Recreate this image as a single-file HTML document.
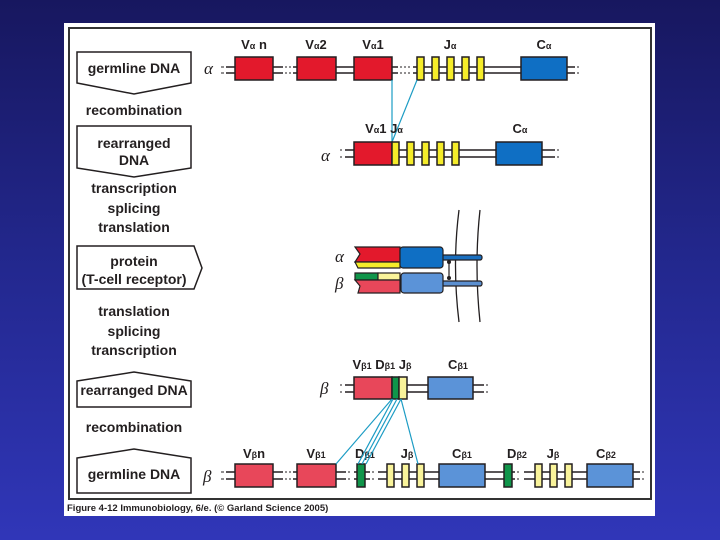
<!DOCTYPE html>
<html><head><meta charset="utf-8"><style>
html,body{margin:0;padding:0;width:720px;height:540px;overflow:hidden}
body{background:linear-gradient(#17175f,#23288f 50%,#3036b8)}
svg{position:absolute;left:0;top:0}
text{font-family:"Liberation Sans",sans-serif;font-weight:bold;fill:#231f20}
.l{font-size:14px;font-weight:normal;text-anchor:middle;font-family:"Liberation Sans Narrow","Liberation Sans",sans-serif}
.g{font-family:"Liberation Serif",serif;font-style:italic;font-weight:normal;font-size:17px}
.h{font-size:13px;text-anchor:middle}
.s{font-size:9px}
</style></head><body>
<svg width="720" height="540" viewBox="0 0 720 540">
<rect x="64" y="23" width="591" height="493" fill="#fff"/>
<rect x="69" y="28" width="582" height="471" fill="none" stroke="#333" stroke-width="2"/>
<text x="67" y="511" style="font-size:9.5px">Figure 4-12  Immunobiology, 6/e. (© Garland Science 2005)</text>

<g fill="#fff" stroke="#231f20" stroke-width="1.5">
<path d="M77,52 H191 V83 L134,94 L77,83 Z"/>
<path d="M77,126 H191 V168 L134,177 L77,168 Z"/>
<path d="M77,246 H194 L202,268 L194,289 H77 Z"/>
<path d="M77,381 L134,372 L191,381 V407 H77 Z"/>
<path d="M77,458 L134,449 L191,458 V493 H77 Z"/>
</g>
<g class="l">
<text x="134" y="73" class="l" style="font-weight:bold;font-size:14px">germline DNA</text>
<text x="134" y="115">recombination</text>
<text x="134" y="148">rearranged</text>
<text x="134" y="165">DNA</text>
<text x="134" y="193">transcription</text>
<text x="134" y="213">splicing</text>
<text x="134" y="232">translation</text>
<text x="134" y="266">protein</text>
<text x="134" y="284">(T-cell receptor)</text>
<text x="134" y="316">translation</text>
<text x="134" y="336">splicing</text>
<text x="134" y="355">transcription</text>
<text x="134" y="395">rearranged DNA</text>
<text x="134" y="432">recombination</text>
<text x="134" y="479" style="font-size:14px">germline DNA</text>
</g>

<!-- alpha germline -->
<g stroke="#231f20" stroke-width="1.5">
<path d="M226,67 H283 M293,67 H398 M413,67 H567 M226,73 H283 M293,73 H398 M413,73 H567 M567,67 H575 M567,73 H575" fill="none"/>
<path d="M221,67h3 M221,73h3 M285,67h2 M285,73h2 M289,67h2 M289,73h2 M400,67h2 M400,73h2 M404,67h2 M404,73h2 M408,67h2 M408,73h2 M577,67h2 M577,73h2" stroke-width="1"/>
<g fill="#e3192c"><rect x="235" y="57" width="38" height="23"/><rect x="297" y="57" width="39" height="23"/><rect x="354" y="57" width="38" height="23"/></g>
<g fill="#f5ec2a"><rect x="417" y="57" width="7" height="23"/><rect x="432" y="57" width="7" height="23"/><rect x="447" y="57" width="7" height="23"/><rect x="462" y="57" width="7" height="23"/><rect x="477" y="57" width="7" height="23"/></g>
<rect x="521" y="57" width="46" height="23" fill="#0f6fc4"/>
</g>
<text x="204" y="74" class="g">α</text>
<g class="h"><text x="254" y="49">V<tspan class="s">α</tspan> n</text><text x="316" y="49">V<tspan class="s">α</tspan>2</text><text x="373" y="49">V<tspan class="s">α</tspan>1</text><text x="450" y="49">J<tspan class="s">α</tspan></text><text x="544" y="49">C<tspan class="s">α</tspan></text></g>
<g stroke="#1c9cc4" stroke-width="1.2"><line x1="392" y1="80" x2="392" y2="142"/><line x1="417" y1="80" x2="392" y2="142"/></g>

<!-- alpha rearranged -->
<g stroke="#231f20" stroke-width="1.5">
<path d="M345,150 H555 M345,157 H555" fill="none"/>
<path d="M340,150h2 M340,157h2 M557,150h2 M557,157h2" stroke-width="1"/>
<rect x="354" y="142" width="38" height="23" fill="#e3192c"/>
<g fill="#f5ec2a"><rect x="392" y="142" width="7" height="23"/><rect x="407" y="142" width="7" height="23"/><rect x="422" y="142" width="7" height="23"/><rect x="437" y="142" width="7" height="23"/><rect x="452" y="142" width="7" height="23"/></g>
<rect x="496" y="142" width="46" height="23" fill="#0f6fc4"/>
</g>
<text x="321" y="161" class="g">α</text>
<g class="h"><text x="384" y="133">V<tspan class="s">α</tspan>1 J<tspan class="s">α</tspan></text><text x="520" y="133">C<tspan class="s">α</tspan></text></g>

<!-- protein -->
<g fill="none" stroke="#231f20" stroke-width="1.3">
<path d="M459,210 Q452,265 459,322"/><path d="M480,210 Q474,265 480,322"/>
</g>
<g stroke="#231f20" stroke-width="1.2">
<rect x="440" y="255" width="42" height="5" rx="2" fill="#1a6fbf"/>
<rect x="440" y="281" width="42" height="5" rx="2" fill="#5b8fd0"/>
<path d="M355,247 H400 V262 H355 L360,254 Z" fill="#e3192c"/>
<path d="M355,262 H400 V268 H358 Z" fill="#f5ec2a"/>
<rect x="400" y="247" width="43" height="21" rx="3" fill="#0f6fc4"/>
<path d="M355,273 H378 V280 H355 Z" fill="#10954a"/>
<rect x="378" y="273" width="22" height="7" fill="#f9f39a"/>
<path d="M355,280 H400 V293 H358 L360,286 Z" fill="#e8475a"/>
<rect x="401" y="273" width="42" height="20" rx="3" fill="#5b93d8"/>
<line x1="449" y1="262" x2="449" y2="278"/>
</g>
<circle cx="449" cy="262" r="2" fill="#231f20"/><circle cx="449" cy="278" r="2" fill="#231f20"/>
<text x="335" y="262" class="g">α</text><text x="335" y="289" class="g">β</text>

<!-- beta rearranged -->
<g stroke="#231f20" stroke-width="1.5">
<path d="M345,385 H484 M345,392 H484" fill="none"/>
<path d="M340,385h2 M340,392h2 M486,385h2 M486,392h2" stroke-width="1"/>
<rect x="354" y="377" width="38" height="22" fill="#e8475a"/>
<rect x="392" y="377" width="7" height="22" fill="#10954a"/>
<rect x="399" y="377" width="8" height="22" fill="#f9f39a"/>
<rect x="428" y="377" width="45" height="22" fill="#5b93d8"/>
</g>
<text x="320" y="394" class="g">β</text>
<g class="h"><text x="382" y="369">V<tspan class="s">β1</tspan> D<tspan class="s">β1</tspan> J<tspan class="s">β</tspan></text><text x="458" y="369">C<tspan class="s">β1</tspan></text></g>

<!-- beta germline -->
<g stroke="#231f20" stroke-width="1.5">
<path d="M226,472 H283 M293,472 H346 M354,472 H370 M378,472 H515 M524,472 H530 M530,472 H640 M226,479 H283 M293,479 H346 M354,479 H370 M378,479 H515 M524,479 H640" fill="none"/>
<path d="M221,472h3 M221,479h3 M285,472h2 M285,479h2 M289,472h2 M289,479h2 M348,472h2 M348,479h2 M372,472h2 M372,479h2 M517,472h2 M517,479h2 M642,472h2 M642,479h2" stroke-width="1"/>
<rect x="235" y="464" width="38" height="23" fill="#e8475a"/>
<rect x="297" y="464" width="39" height="23" fill="#e8475a"/>
<rect x="357" y="464" width="8" height="23" fill="#10954a"/>
<g fill="#f9f39a"><rect x="387" y="464" width="7" height="23"/><rect x="402" y="464" width="7" height="23"/><rect x="417" y="464" width="7" height="23"/><rect x="535" y="464" width="7" height="23"/><rect x="550" y="464" width="7" height="23"/><rect x="565" y="464" width="7" height="23"/></g>
<rect x="439" y="464" width="46" height="23" fill="#5b93d8"/>
<rect x="504" y="464" width="8" height="23" fill="#10954a"/>
<rect x="587" y="464" width="46" height="23" fill="#5b93d8"/>
</g>
<text x="203" y="482" class="g">β</text>
<g class="h"><text x="254" y="458">V<tspan class="s">β</tspan>n</text><text x="316" y="458">V<tspan class="s">β1</tspan></text><text x="365" y="458">D<tspan class="s">β1</tspan></text><text x="407" y="458">J<tspan class="s">β</tspan></text><text x="462" y="458">C<tspan class="s">β1</tspan></text><text x="517" y="458">D<tspan class="s">β2</tspan></text><text x="553" y="458">J<tspan class="s">β</tspan></text><text x="606" y="458">C<tspan class="s">β2</tspan></text></g>
<g stroke="#1c9cc4" stroke-width="1.2">
<line x1="392" y1="399" x2="336" y2="464"/><line x1="393" y1="399" x2="358" y2="464"/><line x1="397" y1="399" x2="362" y2="464"/><line x1="401" y1="399" x2="366" y2="464"/><line x1="401" y1="399" x2="418" y2="464"/>
</g>
</svg>
</body></html>
